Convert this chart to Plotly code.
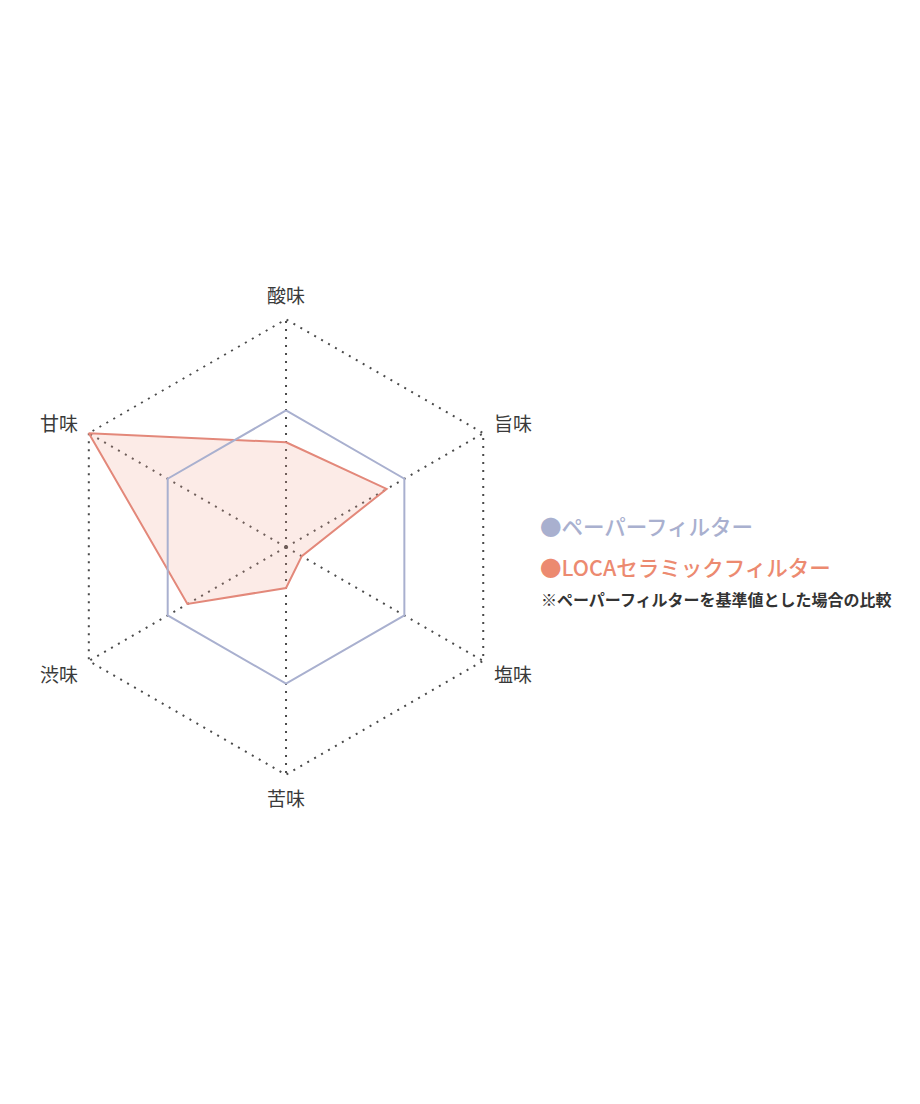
import plotly.graph_objects as go

# Taste axes (clockwise from the top)
tastes = ['酸味', '旨味', '塩味', '苦味', '渋味', '甘味']

# Scores on a 0-5 scale, paper filter used as the reference value
paper_scores = [3, 3, 3, 3, 3, 3]
loca_scores = [2.3, 2.55, 0.4, 0.9, 2.5, 5]

series_names = ['ペーパーフィルター', 'LOCAセラミックフィルター']
note_text = '※ペーパーフィルターを基準値とした場合の比較'

paper_col = '#a9b0cf'
loca_col = '#e3887a'

def closed(vals):
    # repeat the first point so the polygon closes
    return list(vals) + [vals[0]]

fig = go.Figure()
fig.add_trace(go.Scatterpolar(
    r=closed(loca_scores), theta=closed(tastes), mode='lines',
    line=dict(color=loca_col, width=2), fill='toself',
    fillcolor='rgba(242,165,145,0.22)', name=series_names[1], showlegend=False))
fig.add_trace(go.Scatterpolar(
    r=closed(paper_scores), theta=closed(tastes), mode='lines',
    line=dict(color=paper_col, width=2), name=series_names[0], showlegend=False))

fig.update_layout(
    width=920, height=1104,
    margin=dict(l=0, r=0, t=0, b=0),
    paper_bgcolor='white', plot_bgcolor='white',
    font=dict(family='Noto Sans CJK JP', color='#3a3a3a'),
    polar=dict(
        domain=dict(x=[0.0522, 0.5522], y=[0.3034, 0.7201]),
        bgcolor='rgba(0,0,0,0)',
        gridshape='linear',
        radialaxis=dict(range=[0, 5.05], tickvals=[5], showticklabels=False,
                        ticks='', showline=False, gridcolor='#4a4a4a',
                        gridwidth=1.6, griddash='2px,6px'),
        angularaxis=dict(rotation=90, direction='clockwise', showline=False,
                         ticks='outside', ticklen=6, tickcolor='rgba(0,0,0,0)',
                         gridcolor='#4a4a4a', gridwidth=1.6, griddash='2px,6px',
                         tickfont=dict(size=19, color='#3a3a3a')),
    ),
)

# coloured legend text with the explanatory note underneath
fig.add_annotation(x=0.576, y=0.5308, xref='paper', yref='paper', xanchor='left',
                   showarrow=False, text='●' + series_names[0],
                   font=dict(size=21.5, color=paper_col, weight=500))
fig.add_annotation(x=0.576, y=0.4937, xref='paper', yref='paper', xanchor='left',
                   showarrow=False, text='●' + series_names[1],
                   font=dict(size=21.5, color='#ec8a70', weight=500))
fig.add_annotation(x=0.577, y=0.4650, xref='paper', yref='paper', xanchor='left',
                   showarrow=False, text=note_text,
                   font=dict(size=16, color='#333333', weight=700))

fig.write_html('out.html')
